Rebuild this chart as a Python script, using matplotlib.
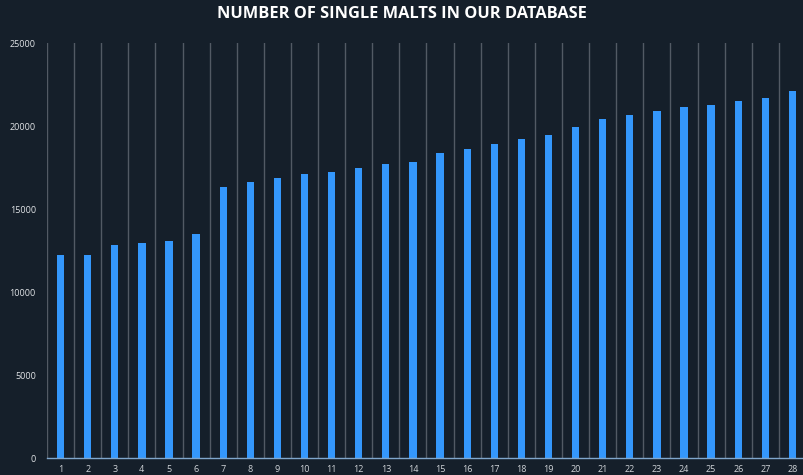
import numpy as np
import matplotlib.pyplot as plt

# Datos
dias = [str(i) for i in range(1, 29)]
maltas = [12230, 12230, 12830, 12950, 13070, 13490, 16330, 16630, 16870, 17110,
          17230, 17470, 17710, 17830, 18370, 18610, 18920, 19220, 19460, 19940,
          20420, 20660, 20900, 21150, 21270, 21510, 21690, 22110]
yticks = [0, 5000, 10000, 15000, 20000, 25000]

fondo = '#151f2a'
azul = '#3497fb'
rejilla = '#525a64'

fig = plt.figure(figsize=(8.04, 4.75), dpi=100)
fig.patch.set_facecolor(fondo)
ax = fig.add_axes([47 / 804, 16.7 / 475, 759 / 804, 415 / 475])
ax.set_facecolor(fondo)

x = np.arange(len(dias))
ax.bar(x, maltas, width=0.27, color=azul, zorder=3)

# líneas verticales entre categorías
for b in np.arange(-0.5, len(dias) - 0.5, 1.0):
    ax.plot([b, b], [0, 25000], color=rejilla, linewidth=1.0, zorder=1)

ax.set_xlim(-0.5, len(dias) - 0.5)
ax.set_ylim(0, 25000)

for s in ['top', 'right', 'left']:
    ax.spines[s].set_visible(False)
ax.spines['bottom'].set_color('#7fa6cc')
ax.spines['bottom'].set_linewidth(1.0)
ax.spines['bottom'].set_zorder(4)

ax.set_xticks(x)
ax.set_xticklabels(dias, fontsize=6.5, color='#d0d4d8', family='Open Sans')
ax.set_yticks(yticks)
ax.set_yticklabels([str(v) for v in yticks], fontsize=6.5, color='#e0e3e6',
                   family='Open Sans')
ax.tick_params(axis='both', length=0)
ax.tick_params(axis='x', pad=5)
ax.tick_params(axis='y', pad=8)

fig.text(0.5, 1 - 14 / 475, 'NUMBER OF SINGLE MALTS IN OUR DATABASE',
         ha='center', va='center', color='white', fontsize=11.8,
         fontweight='bold', family='Open Sans')

plt.savefig('out.png', dpi=100, facecolor=fig.get_facecolor())
